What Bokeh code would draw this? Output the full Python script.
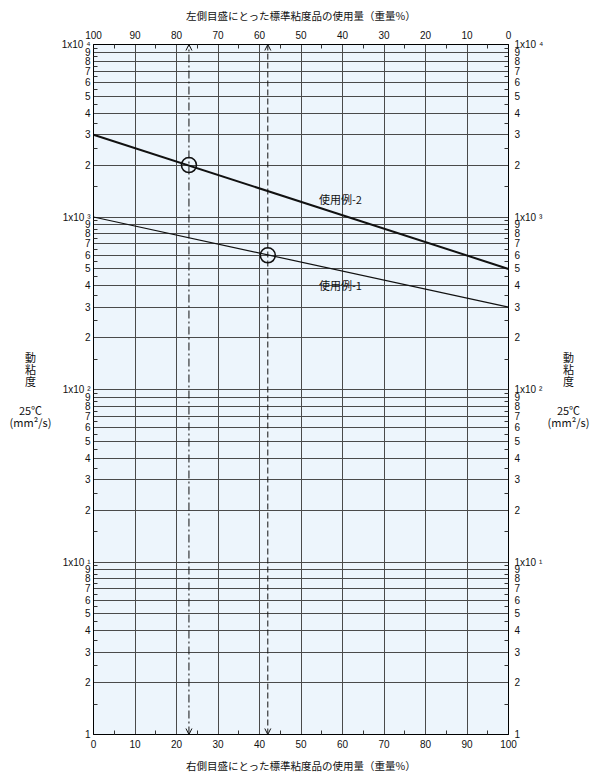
from bokeh.plotting import figure
from bokeh.models import (Range1d, LinearAxis, LogAxis, FixedTicker, Label, Arrow, OpenHead)
from bokeh.embed import file_html
from bokeh.resources import INLINE

# ---- data ----
x_ends = [0, 100]                 # % of right-scale standard (bottom axis)
ex2_visc = [3000, 500]            # 使用例-2 : left 3000, right 500 mm2/s
ex1_visc = [1000, 300]            # 使用例-1 : left 1000, right 300 mm2/s
pt_x = [23, 42]                   # read-off points (bottom axis %)
pt_y = [2000, 600]                # target viscosities
guide_x = [23, 42]
guide_dash = ["8 3 2 3", "6 3"]
ex_labels = ["使用例-2", "使用例-1"]
ex_label_x = [59.5, 59.5]
ex_label_y = [1280, 401]

x_ticks = list(range(0, 101, 10))
x_minor = list(range(5, 100, 10))
y_major = [m * 10 ** k for k in range(4) for m in range(1, 10)] + [10000]
y_minor = [(m + 0.5) * 10 ** k for k in range(4) for m in range(1, 10)]
decade_labels = {1: "1", 10: "1x10 \u00b9", 100: "1x10 \u00b2", 1000: "1x10 \u00b3", 10000: "1x10 \u2074"}
y_overrides = {}
for v in y_major:
    y_overrides[v] = decade_labels.get(v, str(int(str(v)[0])))

side_blocks = ["動\n粘\n度", "25℃\n(mm²/s)"]
side_block_y = [368, 415.5]                 # canvas px (from top), block centres
side_x = {"left": 30, "right": 568}         # canvas px centres

top_title = "左側目盛にとった標準粘度品の使用量（重量%）"
bottom_title = "右側目盛にとった標準粘度品の使用量（重量%）"

NUM_FONT = "Liberation Sans"
JP_FONT = "Noto Sans CJK JP"
GRID = "#4a4a4a"

p = figure(width=600, height=780,
           x_range=Range1d(0, 100), y_range=Range1d(1, 10000), y_axis_type="log",
           output_backend="svg", toolbar_location=None,
           min_border_left=93, min_border_right=92, min_border_top=44, min_border_bottom=46,
           background_fill_color="#edf5fc", border_fill_color="white")
p.outline_line_color = "black"
p.outline_line_width = 1
p.extra_x_ranges = {"top": Range1d(100, 0)}

# grids
p.xgrid.ticker = FixedTicker(ticks=x_ticks)
p.ygrid.ticker = FixedTicker(ticks=y_major)
for g in (p.xgrid, p.ygrid):
    g.grid_line_color = GRID
    g.grid_line_width = 1

def style_axis(ax):
    ax.major_tick_in = 0
    ax.major_tick_out = 0
    ax.minor_tick_in = 4
    ax.minor_tick_out = 0
    ax.minor_tick_line_color = "#333333"
    ax.axis_line_color = "black"
    ax.major_label_text_font = NUM_FONT
    ax.major_label_text_font_size = "10px"
    ax.major_label_text_color = "#111111"
    ax.axis_label_text_font = JP_FONT
    ax.axis_label_text_font_size = "10.5px"
    ax.axis_label_text_font_style = "normal"
    ax.axis_label_text_color = "#111111"

# bottom axis
xb = p.xaxis[0]
xb.ticker = FixedTicker(ticks=x_ticks, minor_ticks=x_minor)
xb.axis_label = bottom_title
style_axis(xb)
xb.major_label_standoff = 5
xb.axis_label_standoff = 7
xb.axis_label_text_line_height = 1.0

# top axis
xt = LinearAxis(x_range_name="top", ticker=FixedTicker(ticks=x_ticks, minor_ticks=x_minor),
                axis_label=top_title)
style_axis(xt)
xt.major_label_standoff = 6
xt.axis_label_standoff = 5
p.add_layout(xt, "above")

# left axis
yl = p.yaxis[0]
yl.ticker = FixedTicker(ticks=y_major, minor_ticks=y_minor)
yl.major_label_overrides = y_overrides
style_axis(yl)
yl.major_label_standoff = 3

# right axis
yr = LogAxis(ticker=FixedTicker(ticks=y_major, minor_ticks=y_minor))
yr.major_label_overrides = y_overrides
style_axis(yr)
yr.major_label_standoff = 6
p.add_layout(yr, "right")

# example lines
p.line(x_ends, ex2_visc, line_color="#111111", line_width=2)
p.line(x_ends, ex1_visc, line_color="#111111", line_width=1.2)

# guide lines with arrowheads
for gx, dash in zip(guide_x, guide_dash):
    p.add_layout(Arrow(start=OpenHead(size=6, line_width=1, line_color="#111111"),
                       end=OpenHead(size=6, line_width=1, line_color="#111111"),
                       x_start=gx, y_start=1, x_end=gx, y_end=10000,
                       line_dash=dash, line_width=1, line_color="#111111"))

# circles
p.scatter(pt_x, pt_y, size=15, fill_color=None, line_color="#111111", line_width=1.6)

# example labels
for t, lx, ly in zip(ex_labels, ex_label_x, ex_label_y):
    p.add_layout(Label(x=lx, y=ly, text=t, text_align="center", text_baseline="middle",
                       text_font=JP_FONT, text_font_size="11px", text_color="#111111"))

# side labels, placed in the side panels (canvas units)
for side, sx in side_x.items():
    for t, sy in zip(side_blocks, side_block_y):
        p.add_layout(Label(x=sx, y=sy, x_units="canvas", y_units="canvas", text=t,
                           text_align="center", text_baseline="middle",
                           text_line_height=0.75,
                           text_font=JP_FONT, text_font_size="11px", text_color="#111111"),
                     side)

open("out.html", "w").write(file_html(p, INLINE))
